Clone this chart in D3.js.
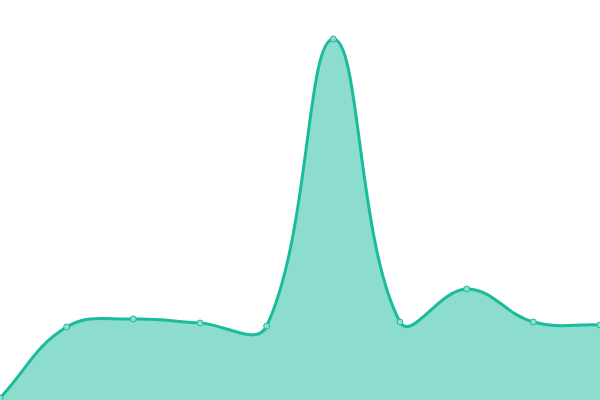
<!DOCTYPE html>
<html>
<head>
<meta charset="utf-8">
<script src="https://cdn.jsdelivr.net/npm/d3@7"></script>
<style>
  html, body { margin: 0; padding: 0; background: #fff; }
  svg { display: block; }
</style>
</head>
<body>
<div id="chart"></div>
<script>
const categories = [0, 1, 2, 3, 4, 5, 6, 7, 8, 9]
const values = [0.5, 18.25, 20.25, 19.25, 18.5, 90.25, 19.5, 27.75, 19.5, 18.75]

const width = 600
const height = 400

// spline with tangents weighted by the length of each neighbouring segment
class WeightedSpline {
  constructor(context, tension) {
    this._context = context
    this._t = tension
  }
  areaStart() { this._line = 0 }
  areaEnd() { this._line = NaN }
  lineStart() { this._x = []; this._y = [] }
  point(x, y) { this._x.push(+x); this._y.push(+y) }
  lineEnd() {
    const xs = this._x, ys = this._y, n = xs.length, t = this._t, ctx = this._context
    if (n) {
      this._line ? ctx.lineTo(xs[0], ys[0]) : ctx.moveTo(xs[0], ys[0])
      const cps = []
      for (let i = 0; i < n; i++) {
        const p = Math.max(i - 1, 0), q = Math.min(i + 1, n - 1)
        const d01 = Math.hypot(xs[i] - xs[p], ys[i] - ys[p])
        const d12 = Math.hypot(xs[q] - xs[i], ys[q] - ys[i])
        const s = d01 + d12
        const fa = s ? t * d01 / s : 0
        const fb = s ? t * d12 / s : 0
        const vx = xs[q] - xs[p], vy = ys[q] - ys[p]
        const clampX = (v) => Math.max(0, Math.min(width, v))
        const clampY = (v) => Math.max(0, Math.min(height, v))
        cps.push({
          px: clampX(xs[i] - fa * vx), py: clampY(ys[i] - fa * vy),
          nx: clampX(xs[i] + fb * vx), ny: clampY(ys[i] + fb * vy)
        })
      }
      for (let i = 1; i < n; i++) {
        ctx.bezierCurveTo(cps[i - 1].nx, cps[i - 1].ny, cps[i].px, cps[i].py, xs[i], ys[i])
      }
    }
    if (this._line || (this._line !== 0 && n === 1)) ctx.closePath()
    this._line = 1 - this._line
  }
}
const curve = (context) => new WeightedSpline(context, 0.4)

const svg = d3
  .select('#chart')
  .append('svg')
  .attr('width', width)
  .attr('height', height)
  .attr('viewBox', [0, 0, width, height])

const x = d3.scaleLinear().domain([0, categories.length - 1]).range([0, width])
const y = d3.scaleLinear().domain([0, 100]).range([height, 0])

const data = categories.map((c, i) => ({ c, v: values[i] }))

const area = d3
  .area()
  .x((d) => x(d.c))
  .y0(height)
  .y1((d) => y(d.v))
  .curve(curve)

const line = d3
  .line()
  .x((d) => x(d.c))
  .y((d) => y(d.v))
  .curve(curve)

svg
  .append('path')
  .datum(data)
  .attr('d', area)
  .attr('fill', '#1abc9c')
  .attr('fill-opacity', 0.5)

svg
  .append('path')
  .datum(data)
  .attr('d', line)
  .attr('fill', 'none')
  .attr('stroke', '#1abc9c')
  .attr('stroke-width', 3)

svg
  .append('g')
  .selectAll('circle')
  .data(data)
  .join('circle')
  .attr('cx', (d) => x(d.c))
  .attr('cy', (d) => y(d.v))
  .attr('r', 3)
  .attr('fill', '#8ddecf')
  .attr('stroke', '#1abc9c')
  .attr('stroke-width', 1)
</script>
</body>
</html>
